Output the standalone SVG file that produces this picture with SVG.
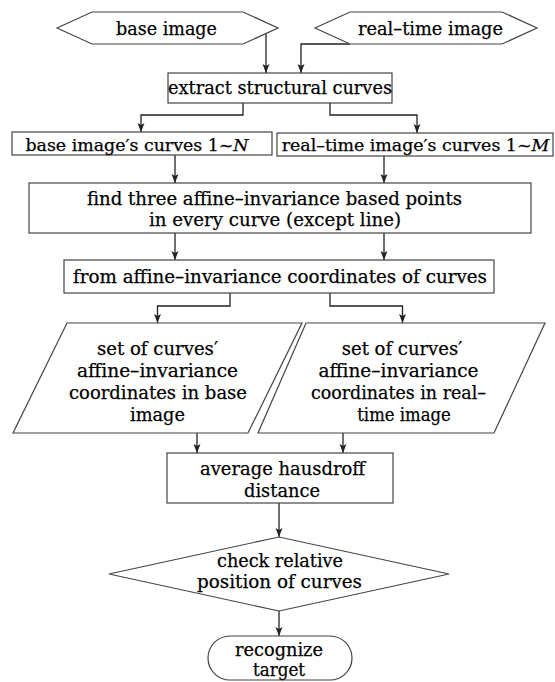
<svg xmlns="http://www.w3.org/2000/svg" width="555" height="682" viewBox="0 0 555 682">
<style>
.s{fill:#fff;stroke:#444;stroke-width:1.2}
.c{fill:none;stroke:#222;stroke-width:1.3}
text{font-family:"DejaVu Serif","Liberation Serif",serif;font-size:18.5px;fill:#000;stroke:#000;stroke-width:0.25;text-anchor:middle}
.sm{font-size:17.4px}
.i{font-style:italic}
</style>
<defs>
<marker id="ah" markerUnits="userSpaceOnUse" markerWidth="10" markerHeight="8" refX="9" refY="3.5" orient="auto">
<path d="M0,0 L9,3.5 L0,7 L2,3.5 z" fill="#222"/>
</marker>
</defs>
<rect width="555" height="682" fill="#fff"/>
<g id="connectors">
<path class="c" marker-end="url(#ah)" d="M266,33.5 V73"/>
<path class="c" marker-end="url(#ah)" d="M350,44 H301 V73"/>
<path class="c" marker-end="url(#ah)" d="M243,103 V115 H141 V132"/>
<path class="c" marker-end="url(#ah)" d="M330,103 V115 H417 V133"/>
<path class="c" marker-end="url(#ah)" d="M175,155 V183"/>
<path class="c" marker-end="url(#ah)" d="M384,156 V183"/>
<path class="c" marker-end="url(#ah)" d="M175,233 V260"/>
<path class="c" marker-end="url(#ah)" d="M384,233 V260"/>
<path class="c" marker-end="url(#ah)" d="M230,293 V306 H157.5 V323"/>
<path class="c" marker-end="url(#ah)" d="M330,293 V306 H402.5 V323"/>
<path class="c" marker-end="url(#ah)" d="M197,433 V453"/>
<path class="c" marker-end="url(#ah)" d="M343,433 V453"/>
<path class="c" marker-end="url(#ah)" d="M279,503 V537"/>
<path class="c" marker-end="url(#ah)" d="M279,611 V636"/>
</g>
<g id="base-image">
<polygon class="s" points="57,28 92,12 243,12 278,28 243,44 92,44"/>
<text x="166.5" y="34.5" textLength="101" lengthAdjust="spacingAndGlyphs">base image</text>
</g>
<g id="realtime-image">
<polygon class="s" points="315,28 350,12 502,12 537,28 502,44 350,44"/>
<text x="430.5" y="34.5" textLength="145" lengthAdjust="spacingAndGlyphs">real–time image</text>
</g>
<g id="extract">
<rect class="s" x="168" y="73" width="224" height="30"/>
<text x="280" y="93.5" textLength="224" lengthAdjust="spacingAndGlyphs">extract structural curves</text>
</g>
<g id="base-curves">
<rect class="s" x="12" y="132" width="260" height="23"/>
<text class="sm" x="137" y="150.5">base image′s curves 1~<tspan class="i">N</tspan></text>
</g>
<g id="realtime-curves">
<rect class="s" x="277" y="133" width="276" height="23"/>
<text class="sm" x="415.5" y="151">real–time image′s curves 1~<tspan class="i">M</tspan></text>
</g>
<g id="find-points">
<rect class="s" x="29" y="183" width="502" height="50"/>
<text x="274.5" y="204.5" textLength="375" lengthAdjust="spacingAndGlyphs">find three affine–invariance based points</text>
<text x="275" y="226" textLength="252" lengthAdjust="spacingAndGlyphs">in every curve (except line)</text>
</g>
<g id="from-coords">
<rect class="s" x="64" y="260" width="430" height="33"/>
<text x="280" y="282.5" textLength="414" lengthAdjust="spacingAndGlyphs">from affine–invariance coordinates of curves</text>
</g>
<g id="set-base">
<polygon class="s" points="67,323 302,323 248,433 13,433"/>
<text x="157.5" y="355" textLength="121" lengthAdjust="spacingAndGlyphs">set of curves′</text>
<text x="157.5" y="377" textLength="161" lengthAdjust="spacingAndGlyphs">affine–invariance</text>
<text x="158" y="399" textLength="178" lengthAdjust="spacingAndGlyphs">coordinates in base</text>
<text x="157.5" y="421" textLength="55" lengthAdjust="spacingAndGlyphs">image</text>
</g>
<g id="set-realtime">
<polygon class="s" points="306,323 545,323 494,433 258,433"/>
<text x="402" y="355" textLength="120.5" lengthAdjust="spacingAndGlyphs">set of curves′</text>
<text x="398.5" y="377" textLength="160" lengthAdjust="spacingAndGlyphs">affine–invariance</text>
<text x="398.5" y="399" textLength="175" lengthAdjust="spacingAndGlyphs">coordinates in real–</text>
<text x="404" y="421" textLength="93.5" lengthAdjust="spacingAndGlyphs">time image</text>
</g>
<g id="hausdorff">
<rect class="s" x="167" y="453" width="226" height="50"/>
<text x="282.5" y="475" textLength="165" lengthAdjust="spacingAndGlyphs">average hausdroff</text>
<text x="282" y="497" textLength="76" lengthAdjust="spacingAndGlyphs">distance</text>
</g>
<g id="check-position">
<polygon class="s" points="109,574 279,537 449,574 279,611"/>
<text x="280" y="567" textLength="126" lengthAdjust="spacingAndGlyphs">check relative</text>
<text x="279.5" y="588" textLength="165" lengthAdjust="spacingAndGlyphs">position of curves</text>
</g>
<g id="recognize">
<rect class="s" x="208" y="636" width="144" height="44" rx="22" ry="22"/>
<text x="279" y="656" textLength="88" lengthAdjust="spacingAndGlyphs">recognize</text>
<text x="279" y="676" textLength="52" lengthAdjust="spacingAndGlyphs">target</text>
</g>
</svg>
